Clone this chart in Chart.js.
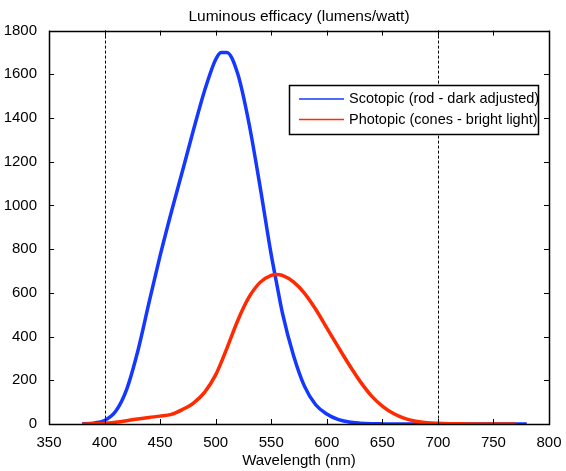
<!DOCTYPE html>
<html>
<head>
<meta charset="utf-8">
<script src="https://cdn.jsdelivr.net/npm/chart.js@4.4.0/dist/chart.umd.min.js"></script>
<style>
  body { margin: 0; background: #fff; }
  #wrap { width: 566px; height: 471px; position: relative; }
</style>
</head>
<body>
<div id="wrap"><canvas id="efficacyChart"></canvas></div>
<script>
// Wavelength samples (nm) and luminous efficacy (lm/W)
const wavelengths = [380, 390, 400, 410, 420, 430, 440, 450, 460, 470, 480, 490, 500, 505, 510, 520, 530, 540, 550, 555, 560, 570, 580, 590, 600, 610, 620, 630, 640, 650, 660, 670, 680, 690, 700, 710, 720, 730, 740, 750, 760, 770, 780];
const scotopic = [1, 4, 16, 58, 160, 335, 555, 770, 968, 1155, 1345, 1525, 1668, 1700, 1700, 1600, 1375, 1085, 775, 640, 510, 315, 172, 88, 46, 21, 9, 4, 1.5, 0.5, 0, 0, 0, 0, 0, 0, 0, 0, 0, 0, 0, 0, 0];
const photopic = [0, 1, 3, 8, 15, 23, 30, 36, 44, 66, 96, 145, 225, 282, 345, 475, 580, 648, 680, 684, 680, 650, 598, 525, 440, 355, 272, 195, 130, 82, 48, 26, 13, 6, 3, 1.5, 1, 0.5, 0, 0, 0, 0, null];
const seriesNames = ['Scotopic (rod - dark adjusted)', 'Photopic (cones - bright light)'];
const markerLines = [400, 700];

const FONT = 'Helvetica, "Liberation Sans", Arial, sans-serif';

function toPoints(values) {
    return wavelengths.map((w, i) => ({ x: w, y: values[i] }));
}

// MATLAB-ish frame, inward ticks, dashed markers and boxed legend
const matlabAxes = {
    id: 'matlabAxes',
    beforeDatasetsDraw(chart) {
        const { ctx, chartArea: a, scales: { x } } = chart;
        ctx.save();
        ctx.strokeStyle = '#000';
        ctx.lineWidth = 1;
        ctx.setLineDash([3, 2]);
        markerLines.forEach(v => {
            const px = Math.round(x.getPixelForValue(v)) + 0.5;
            ctx.beginPath();
            ctx.moveTo(px, a.top);
            ctx.lineTo(px, a.bottom);
            ctx.stroke();
        });
        ctx.restore();
    },
    afterDraw(chart) {
        const { ctx, chartArea: a, scales: { x, y } } = chart;
        ctx.save();
        ctx.strokeStyle = '#000';
        ctx.lineWidth = 1;
        const tl = 5;
        ctx.beginPath();
        x.ticks.forEach(t => {
            const px = Math.round(x.getPixelForValue(t.value)) + 0.5;
            ctx.moveTo(px, a.bottom); ctx.lineTo(px, a.bottom - tl);
            ctx.moveTo(px, a.top); ctx.lineTo(px, a.top + tl);
        });
        y.ticks.forEach(t => {
            const py = Math.round(y.getPixelForValue(t.value)) + 0.5;
            ctx.moveTo(a.left, py); ctx.lineTo(a.left + tl, py);
            ctx.moveTo(a.right, py); ctx.lineTo(a.right - tl, py);
        });
        ctx.stroke();
        ctx.lineWidth = 1.5;
        ctx.strokeRect(Math.round(a.left) + 0.5, Math.round(a.top) + 0.5,
            Math.round(a.right - a.left), Math.round(a.bottom - a.top));

        // legend box
        const bw = 249, bh = 49;
        const bx = Math.round(a.right) - 11 - bw;
        const by = Math.round(a.top) + 54;
        ctx.fillStyle = '#fff';
        ctx.fillRect(bx, by, bw, bh);
        ctx.lineWidth = 1.5;
        ctx.strokeRect(bx + 0.5, by + 0.5, bw, bh);
        ctx.font = '14.5px ' + FONT;
        ctx.textBaseline = 'middle';
        ctx.textAlign = 'left';
        chart.data.datasets.forEach((ds, i) => {
            const ly = by + 14 + i * 20.5;
            ctx.strokeStyle = ds.borderColor;
            ctx.lineWidth = 1.5;
            ctx.beginPath();
            ctx.moveTo(bx + 10, ly);
            ctx.lineTo(bx + 55, ly);
            ctx.stroke();
            ctx.fillStyle = '#000';
            ctx.fillText(ds.label, bx + 60, ly);
        });
        ctx.restore();
    }
};

const ctx = document.getElementById('efficacyChart').getContext('2d');
const efficacyChart = new Chart(ctx, {
    type: 'line',
    data: {
        datasets: [{
            label: seriesNames[0],
            data: toPoints(scotopic),
            borderColor: '#1438ff',
            borderWidth: 3.5,
            pointRadius: 0,
            cubicInterpolationMode: 'monotone',
            order: 1
        }, {
            label: seriesNames[1],
            data: toPoints(photopic),
            borderColor: '#ff2a00',
            borderWidth: 3.5,
            pointRadius: 0,
            cubicInterpolationMode: 'monotone',
            order: 0
        }]
    },
    options: {
        responsive: true,
        maintainAspectRatio: false,
        animation: false,
        layout: { padding: { left: 0, right: 17, top: 0, bottom: 0 } },
        plugins: {
            legend: { display: false },
            tooltip: { enabled: false },
            title: {
                display: true,
                fullSize: false,
                text: 'Luminous efficacy (lumens/watt)',
                color: '#000',
                font: { family: FONT, size: 15.5, weight: 'normal' },
                padding: { top: 7, bottom: 5 }
            }
        },
        scales: {
            x: {
                type: 'linear',
                min: 350,
                max: 800,
                grid: { display: false },
                border: { display: false },
                ticks: {
                    stepSize: 50,
                    color: '#000',
                    padding: 2,
                    maxRotation: 0,
                    font: { family: FONT, size: 15 }
                },
                title: {
                    display: true,
                    text: 'Wavelength (nm)',
                    color: '#000',
                    font: { family: FONT, size: 15 },
                    padding: { top: 0, bottom: 1 }
                },
                afterFit(scale) { scale.height = 47; }
            },
            y: {
                min: 0,
                max: 1800,
                grid: { display: false },
                border: { display: false },
                ticks: {
                    stepSize: 200,
                    color: '#000',
                    padding: 4,
                    font: { family: FONT, size: 15 },
                    callback: v => String(v)
                },
                afterFit(scale) { scale.width = 49; }
            }
        }
    },
    plugins: [matlabAxes]
});
</script>
</body>
</html>
